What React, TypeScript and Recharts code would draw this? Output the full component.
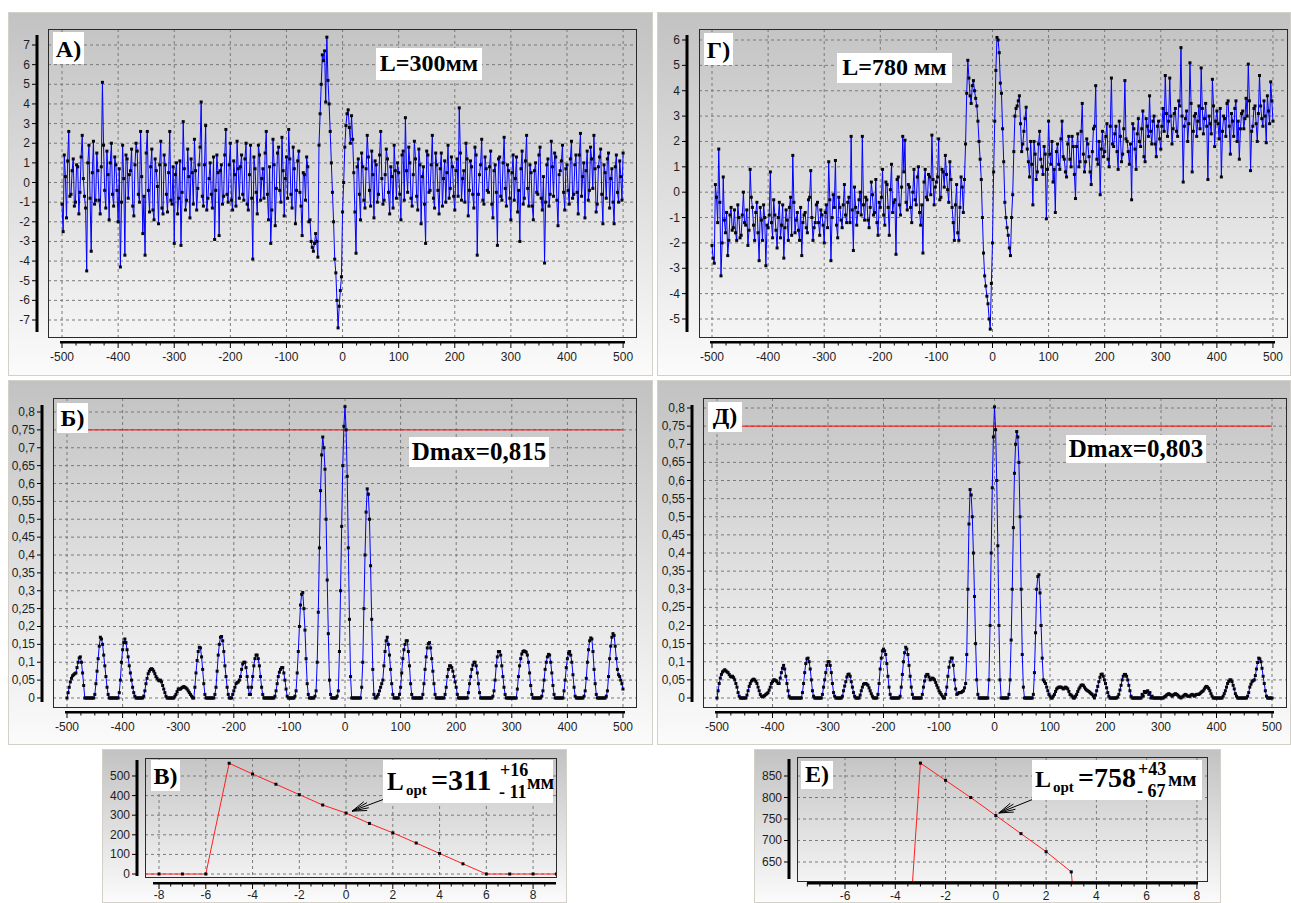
import React from 'react';
import { LineChart, Line, XAxis, YAxis, CartesianGrid, ReferenceLine } from 'recharts';

// sample positions along the scan, mm: main readings every 4 mm, plus the readings half way between them
const scanMm = Array.from({ length: 251 }, (_, i) => -500 + 4 * i);
const scanMidMm = Array.from({ length: 250 }, (_, i) => -498 + 4 * i);

// А) signal, L = 300 mm
const signalA = [
  -1.1, 1.4, -1.8, 2.6, -0.6, 1.2, -1.0, 0.8, -0.5, 2.4, -0.7, -4.5, 1.9, -3.5, 2.1, -0.9, 0.6, -1.6, 5.1, -0.4, 1.6, -1.9, 2.0, -1.2, 0.9,
  -2.0, -4.3, 1.9, -3.7, 1.2, 0.4, 1.7, -1.7, 2.0, -0.6, 2.6, -2.6, -3.7, 2.6, -1.5, 1.7, -1.9, 0.6, -2.1, 2.1, -1.6, 0.9, -1.5, 2.6, -1.1,
  -3.1, 1.0, -0.8, -3.2, 3.1, -1.4, 1.7, -1.8, 0.5, 2.2, -1.4, 0.9, 4.1, -1.2, 2.9, -0.8, 1.0, -1.3, -2.9, 1.4, -2.7, 0.9, -0.7, 2.7, -1.0,
  2.0, -1.4, 0.4, 2.1, -0.8, 1.4, -0.9, 2.0, -1.4, 1.9, -3.9, 0.7, -1.6, 1.4, 0.2, -0.8, 2.6, -1.9, -3.1, 2.2, -2.2, 1.5, -0.4, 2.3, -1.7,
  1.3, 2.7, -0.6, 1.8, -2.1, 1.1, -0.5, -2.7, 0.4, 1.3, -2.0, -3.0, -3.5, -2.6, -3.8, 3.5, 6.5, 6.7, 7.4, 4.0, 1.0, -2.0, -4.6, -7.4, -5.5,
  -1.5, 1.8, 3.5, 2.8, 3.4, 0.5, -3.6, 1.2, -1.9, 0.8, -1.3, 2.4, -0.4, 1.6, -1.8, 0.9, -0.6, 2.6, -1.1, 0.4, 1.2, -1.6, 0.3, 1.9, -0.8,
  0.5, -1.9, 1.6, 3.3, -0.5, 1.0, -1.2, 2.1, -0.7, 1.7, -2.1, 0.8, -3.1, 1.4, -0.4, 2.4, -1.3, 0.9, -1.6, 1.5, 0.2, -1.0, 1.9, -0.3, 0.8,
  -1.4, 1.2, 3.8, -0.9, 0.6, 2.0, -1.7, 1.1, -0.6, 1.8, -3.7, 0.4, 2.2, -1.1, 0.7, -0.5, 1.6, -1.8, 0.9, -3.2, 1.3, -0.9, 2.3, -1.2, 0.6,
  -1.9, 1.4, 0.2, -1.5, -3.0, 1.6, -0.8, 2.4, -1.2, 0.5, -1.9, 1.0, -0.6, 1.8, -1.4, -4.1, 0.9, -1.2, 2.1, -0.7, 1.3, -2.2, 0.6, 1.9, -1.4,
  0.9, -1.1, 2.1, -0.6, 1.4, -1.6, 2.5, 0.3, -1.8, 1.6, -0.4, 1.2, 2.4, -1.5, 0.8, 1.7, -2.1, 0.5, 1.2, -1.3, 0.7, -2.1, 1.4, -1.0, 0.3,
  1.5,
];
const signalAMid = [
  -2.5, 0.3, 1.1, -0.7, 0.6, -1.2, 0.9, -1.6, 1.3, 0.2, -1.3, 1.0, -0.8, 0.5, -1.1, 1.5, -0.9, 0.8, 1.9, -1.3, 0.4, 1.0, -0.6, 1.3, -0.4,
  0.7, -1.0, 0.2, 1.4, -0.8, 0.6, -1.2, 0.9, 1.6, -1.0, 0.3, -0.7, 1.5, -0.4, 0.8, -1.4, 1.2, -0.2, 0.9, -1.3, 1.4, -0.6, 0.5, -0.9, 0.8,
  0.4, -1.6, 1.1, -0.5, 0.7, -0.9, 0.3, 1.2, -1.1, 0.6, -0.3, 1.8, -0.7, 0.9, -1.4, 0.2, -0.6, 1.3, -0.4, 0.5, 0.6, -1.1, 1.4, -0.6, 0.9,
  -0.9, 1.1, -1.2, 0.7, 0.8, -0.6, 1.2, -1.1, 0.4, -0.8, 1.3, -0.5, 1.9, -0.9, 0.7, 1.5, -0.6, 0.8, -1.4, 0.9, -0.3, 1.8, -1.0, 0.6, 0.2,
  -0.8, 1.2, -1.3, 0.7, -0.4, 1.6, -1.2, 0.5, -0.9, 0.8, -1.9, -3.3, -3.1, -3.0, 1.9, 5.0, 6.2, 4.1, 5.2, 2.6, -0.5, -3.9, -6.0, -6.3, -4.8,
  0.0, 2.9, 3.7, 2.0, 2.2, -1.5, 0.8, -0.6, 1.5, -0.9, 0.7, 1.3, -1.2, 0.4, 1.1, -1.0, 1.4, 0.2, -0.9, 1.7, -0.5, 0.8, -1.3, 0.6, 1.0,
  -0.6, 1.4, -0.9, 0.6, 1.8, -0.8, 0.4, 1.2, -1.4, 0.9, 0.3, -1.1, 1.6, -0.5, 0.9, -0.8, 1.5, -0.4, 0.7, -1.2, 1.1, 0.5, -0.8, 1.3, -0.7,
  0.6, -0.7, 1.5, 0.2, -1.0, 1.2, -0.4, 0.8, -1.3, 1.4, -0.6, 0.9, -0.9, 1.3, -0.4, 0.8, -1.1, 0.6, -0.5, 1.2, -0.7, 1.0, -0.3, 0.9, -0.8,
  0.5, -0.9, 1.3, -0.4, 0.7, -1.1, 1.1, -0.3, 0.9, -1.2, 0.6, -0.5, 1.4, -0.8, 0.3, -1.0, 1.2, -0.6, 0.8, 1.5, -0.9, 0.4, 1.1, -0.5, 0.7,
  -0.4, 1.2, -0.8, 0.9, -0.5, 1.4, -0.7, 1.0, 0.6, -0.9, 1.8, -0.3, 0.7, -1.1, 1.3, -0.6, 0.9, -0.8, 1.5, 0.2, -1.0, 0.8, -0.5, 1.1, -0.9,
];

// Г) signal, L = 780 mm
const signalG = [
  -2.1, -2.8, -0.2, 1.7, -3.3, 0.6, -1.6, -2.5, -0.9, -1.5, -0.7, -1.9, -1.0, -1.7, 0.0, -1.3, -2.1, 0.9, -0.6, -1.9, -0.4, -2.7, -1.1, -0.5, -2.9,
  -1.4, 0.8, -1.8, -0.9, -2.2, -0.4, -1.3, -2.6, -0.7, -1.9, -0.2, 1.45, -1.6, -0.8, -1.9, -2.5, -0.9, -1.4, -0.3, 0.85, -1.9, -1.2, -0.4, -1.7, -0.9,
  -2.0, -0.5, 1.2, -2.7, -0.1, 1.25, -1.8, -0.6, -1.4, 0.3, -1.2, -0.2, 2.2, -2.3, -0.6, -0.8, 0.0, 2.2, -1.1, -0.3, -1.4, 0.4, -0.9, 0.5, -1.7,
  -0.6, 0.9, -1.3, 0.3, -1.7, 1.1, -0.4, -2.45, 0.6, -0.9, 2.2, 2.05, -0.7, 0.2, -1.2, 0.9, -0.5, 1.0, -1.3, -2.4, 0.9, -0.3, 0.6, 2.25, -0.5,
  0.4, 2.1, -0.2, 0.8, 1.45, 0.1, 1.2, -0.6, -1.9, 0.3, -1.9, 0.6, -0.8, 1.9, 5.2, 3.8, 4.2, 4.0, 3.4, 2.0, 0.5, -2.4, -3.7, -4.4, -5.4,
  -2.0, 2.8, 6.1, 5.5, 3.9, 1.2, -1.0, -1.7, -2.5, -0.1, 3.0, 3.4, 3.8, 1.6, 2.4, 3.35, 1.2, 2.0, -0.5, 1.5, 0.8, 2.4, 1.0, 1.8, -1.05,
  2.8, 1.1, 0.4, -0.8, 1.9, 0.9, 2.8, 1.3, 0.6, 2.2, 1.0, 1.8, -0.25, 2.3, 1.2, 3.5, 0.8, 2.1, 1.4, 0.3, 2.5, 4.2, 1.1, -0.1, 2.4,
  1.6, 2.7, 1.0, 4.5, 1.8, 2.6, 0.9, 2.2, 1.5, 4.4, 2.0, 1.1, -0.3, 2.5, 0.9, 2.9, 1.8, 3.2, 1.2, 2.6, 3.8, 1.9, 3.0, 1.4, 2.8,
  1.7, 3.3, 4.6, 2.2, 4.5, 1.9, 3.1, 2.4, 3.6, 5.7, 0.4, 2.9, 2.0, 5.1, 0.8, 3.0, 2.2, 3.4, 4.9, 2.3, 3.5, 0.5, 2.7, 4.45, 1.8,
  3.2, 2.1, 0.6, 3.0, 2.2, 3.6, 1.5, 2.8, 3.3, 2.0, 1.3, 3.1, 2.5, 3.7, 5.05, 0.85, 2.6, 3.4, 2.0, 4.6, 2.9, 3.6, 1.95, 3.2, 4.35,
  2.8,
];
const signalGMid = [
  -2.6, 0.3, -1.2, -0.4, -2.0, -1.1, -0.8, -1.9, -0.6, -1.4, -1.6, -0.5, -1.8, -0.9, -1.2, -0.7, -1.5, -0.2, -1.3, -0.8, -1.6, -0.6, -1.9, -1.0, -1.3,
  -0.9, -1.2, -0.3, -1.5, -1.0, -1.8, -0.5, -1.4, -1.1, -0.6, -1.7, -0.4, -1.1, -1.5, -0.6, -1.2, -0.8, -1.6, -0.2, -1.0, -1.4, -0.5, -1.2, -0.7, -1.3,
  -0.8, -1.4, -0.3, -1.0, -0.6, -1.3, -0.2, -1.1, -0.5, -0.9, -0.4, -1.2, -0.7, 0.2, -1.3, -0.3, -0.9, -0.5, -0.2, -1.1, -0.6, -0.1, -0.8, -1.2, -0.4,
  -0.2, -0.9, 0.4, -0.6, 0.1, -0.8, -0.3, 0.5, -0.5, 0.2, 0.8, -0.4, 0.3, -0.6, 0.0, -0.3, 0.6, -0.8, -0.5, 0.4, -0.2, 0.7, -0.1, 0.5, 0.2,
  0.6, -0.3, 0.9, 0.2, 0.7, -0.4, 0.5, -1.2, -0.5, -1.6, -0.6, 0.2, 0.5, 3.9, 4.5, 3.5, 4.4, 3.7, 2.8, 1.3, -1.0, -3.3, -4.1, -5.0, -3.6,
  0.8, 4.8, 6.0, 4.3, 2.5, -0.4, -1.4, -2.2, -1.0, 1.6, 3.3, 3.6, 2.7, 1.9, 2.9, 1.7, 0.6, 1.1, 2.0, 0.5, 1.9, 1.3, 0.7, 1.5, 0.9,
  1.5, 2.0, 0.9, 1.6, 1.1, 2.1, 1.4, 0.8, 1.9, 1.3, 2.2, 0.7, 1.8, 1.0, 2.4, 1.5, 1.2, 1.9, 0.8, 1.6, 2.6, 1.3, 2.0, 1.7, 1.4,
  2.2, 1.3, 2.6, 1.9, 2.3, 1.6, 2.8, 1.2, 2.5, 2.1, 1.6, 1.9, 2.7, 1.7, 2.3, 2.0, 2.5, 1.4, 2.9, 2.2, 2.4, 2.8, 1.9, 2.6, 2.1,
  2.6, 2.4, 3.1, 2.8, 3.0, 2.5, 3.3, 2.2, 3.4, 3.0, 2.6, 3.2, 2.7, 3.5, 2.4, 3.1, 2.8, 2.5, 3.3, 2.9, 2.6, 3.0, 2.3, 3.4, 2.8,
  2.7, 3.3, 2.4, 2.9, 3.5, 2.6, 3.1, 2.2, 3.6, 2.8, 2.5, 3.2, 2.9, 3.0, 3.6, 2.4, 3.3, 2.7, 3.1, 3.4, 2.6, 3.0, 3.8, 2.7, 3.6,
];

// Б) correlation, L = 300 mm
const corrB = [
  0, .03, .055, .065, .07, .1, .115, .07, 0, 0, 0, 0, 0, .04, .11, .17, .15, .09, .03, 0, 0, 0, 0, 0, .05,
  .135, .165, .135, .09, .05, .015, 0, 0, 0, 0, .02, .055, .075, .082, .075, .06, .05, .05, .035, .015, 0, 0, 0, 0, .01,
  .025, .025, .03, .03, .025, .015, .005, 0, .07, .13, .14, .08, .01, 0, 0, 0, 0, .03, .12, .17, .16, .09, .03, 0, 0,
  .02, .04, .045, .06, .095, .1, .06, .01, .03, .09, .12, .11, .06, .01, 0, 0, 0, 0, 0, .02, .06, .08, .085, .05, .005,
  0, 0, 0, .02, .13, .26, .295, .19, .04, 0, 0, 0, .02, .24, .58, .73, .64, .33, .05, 0, 0, 0, .02, .3, .65,
  .815, .62, .22, 0, 0, 0, 0, 0, .1, .4, .585, .5, .22, .01, 0, .01, .03, .05, .13, .17, .12, .04, 0, 0, 0,
  .03, .11, .15, .16, .09, .01, 0, 0, 0, 0, .01, .08, .14, .155, .11, .04, 0, 0, 0, 0, .01, .06, .09, .085, .06,
  .03, 0, 0, 0, 0, 0, .04, .08, .1, .09, .04, 0, 0, 0, 0, 0, 0, .02, .09, .13, .12, .06, .01, 0, 0,
  0, 0, 0, .06, .11, .13, .13, .12, .07, .01, 0, 0, 0, 0, .02, .08, .115, .12, .07, .01, 0, 0, 0, 0, .05,
  .11, .13, .1, .03, 0, 0, 0, 0, .02, .1, .16, .165, .08, .01, 0, 0, 0, 0, .02, .11, .17, .175, .11, .065, .05,
  .025,
];
const corrBMid = [
  .015, .045, .062, .068, .085, .112, .1, .035, 0, 0, 0, 0, .01, .075, .145, .165, .12, .06, .01, 0, 0, 0, 0, .015, .1,
  .155, .155, .115, .07, .03, .005, 0, 0, 0, .005, .04, .068, .08, .08, .068, .055, .048, .045, .025, .005, 0, 0, 0, .005, .018,
  .025, .028, .032, .028, .02, .01, 0, .03, .105, .142, .115, .04, 0, 0, 0, 0, .01, .075, .15, .172, .13, .06, .01, 0, .01,
  .03, .043, .05, .08, .1, .085, .03, .01, .06, .11, .12, .09, .03, 0, 0, 0, 0, 0, .005, .04, .072, .085, .07, .025, 0,
  0, 0, .005, .07, .2, .29, .25, .11, .01, 0, 0, .005, .1, .42, .68, .7, .5, .18, .01, 0, 0, .005, .13, .48, .76,
  .75, .42, .06, 0, 0, 0, 0, .03, .25, .52, .57, .37, .08, 0, .005, .02, .04, .09, .16, .15, .08, .01, 0, 0, .01,
  .07, .135, .16, .13, .04, 0, 0, 0, 0, 0, .04, .115, .152, .14, .075, .01, 0, 0, 0, 0, .03, .08, .09, .075, .045,
  .01, 0, 0, 0, 0, .015, .06, .092, .1, .07, .015, 0, 0, 0, 0, 0, .005, .05, .115, .13, .09, .03, 0, 0, 0,
  0, 0, .025, .09, .123, .132, .128, .1, .035, 0, 0, 0, 0, .005, .05, .1, .122, .1, .035, 0, 0, 0, 0, .02, .085,
  .125, .12, .065, .005, 0, 0, 0, .005, .055, .135, .168, .13, .04, 0, 0, 0, 0, .005, .06, .145, .18, .145, .08, .06, .04,
];

// Д) correlation, L = 780 mm
const corrD = [
  0, .04, .065, .075, .075, .07, .06, .06, .05, .03, .005, 0, 0, 0, .02, .04, .05, .05, .04, .02, .005, .005, .01, .015, .03,
  .045, .05, .045, .04, .07, .09, .06, .02, 0, 0, 0, 0, 0, 0, .04, .095, .11, .08, .02, 0, 0, 0, 0, .03, .07,
  .1, .09, .04, .005, 0, 0, 0, .02, .045, .065, .06, .03, .005, 0, 0, .02, .038, .04, .035, .02, .005, 0, 0, .04, .11,
  .135, .12, .06, .01, 0, 0, 0, 0, .03, .1, .14, .12, .06, .01, 0, 0, 0, 0, .03, .06, .065, .05, .055, .05, .035,
  .02, .01, 0, .01, .06, .1, .11, .05, .01, .015, .015, .02, .04, .3, .575, .5, .28, .05, 0, 0, 0, 0, 0, .2, .58,
  .803, .6, .2, 0, 0, 0, 0, .05, .3, .62, .735, .65, .3, .03, 0, 0, 0, 0, .07, .3, .34, .2, .05, .04, .02,
  .005, 0, .01, .025, .03, .03, .025, .03, .025, .01, .005, 0, .01, .025, .035, .035, .025, .02, .015, .01, 0, .02, .045, .065, .06,
  .04, .015, 0, 0, 0, 0, .01, .035, .06, .065, .05, .02, 0, 0, 0, 0, 0, .005, .015, .02, .015, .005, 0, 0, 0,
  0, 0, .005, .01, .01, .005, .01, .01, .005, 0, .005, .01, .005, .005, .01, .005, .01, .01, .015, .02, .03, .03, .02, .005, 0,
  0, 0, 0, .005, .02, .04, .05, .045, .025, .005, 0, 0, 0, 0, .005, .03, .045, .05, .08, .11, .1, .06, .02, 0, 0,
  0,
];
const corrDMid = [
  .02, .055, .072, .078, .072, .065, .058, .056, .04, .015, 0, 0, 0, .008, .032, .047, .052, .046, .03, .01, .003, .007, .012, .022, .04,
  .05, .048, .04, .055, .082, .08, .04, .005, 0, 0, 0, 0, 0, .015, .07, .108, .1, .05, .005, 0, 0, 0, .01, .05, .09,
  .1, .07, .015, 0, 0, 0, .005, .033, .058, .066, .045, .015, 0, 0, .008, .03, .04, .038, .028, .012, 0, 0, .01, .08, .13,
  .13, .095, .03, 0, 0, 0, 0, .005, .065, .125, .135, .09, .03, 0, 0, 0, 0, .01, .047, .065, .058, .052, .053, .043, .028,
  .015, .005, 0, .03, .085, .11, .09, .025, .012, .015, .018, .028, .12, .48, .56, .4, .15, .01, 0, 0, 0, 0, .05, .4, .72,
  .74, .42, .05, 0, 0, 0, .01, .16, .47, .7, .72, .5, .12, 0, 0, 0, 0, .01, .18, .335, .29, .11, .045, .03, .01,
  0, .005, .018, .028, .03, .028, .027, .028, .018, .008, 0, .005, .018, .03, .036, .03, .022, .018, .012, .005, .008, .032, .057, .066, .05,
  .028, .005, 0, 0, 0, .003, .022, .05, .065, .06, .035, .005, 0, 0, 0, 0, .01, .018, .018, .01, 0, 0, 0, 0, 0,
  0, .003, .008, .012, .008, .008, .012, .008, .002, .003, .008, .008, .005, .008, .008, .008, .01, .012, .018, .025, .032, .026, .012, 0, 0,
  0, 0, 0, .012, .03, .046, .05, .035, .012, 0, 0, 0, 0, 0, .015, .038, .048, .062, .098, .108, .082, .04, .005, 0, 0,
];

// В) length estimate vs shift, L = 300 mm
const shiftV = [-9, -8, -7, -6, -5, -4, -3, -2, -1, 0, 1, 2, 3, 4, 5, 6, 7, 8, 9];
const lengthV = [0, 0, 0, 0, 565, 510, 458, 405, 352, 311, 258, 210, 158, 105, 52, 0, 0, 0, 0];

// Е) length estimate vs shift, L = 780 mm
const shiftE = [-8, -7, -6, -5, -4, -3, -2, -1, 0, 1, 2, 3, 4, 5, 6, 7, 8];
const lengthE = [0, 0, 0, 0, 0, 880, 840, 800, 758, 716, 674, 627, 0, 0, 0, 0, 0];

const scanTicks = [-500, -400, -300, -200, -100, 0, 100, 200, 300, 400, 500];
const ticksA = [-7, -6, -5, -4, -3, -2, -1, 0, 1, 2, 3, 4, 5, 6, 7];
const ticksG = [-5, -4, -3, -2, -1, 0, 1, 2, 3, 4, 5, 6];
const ticksCorr = [0, 0.05, 0.1, 0.15, 0.2, 0.25, 0.3, 0.35, 0.4, 0.45, 0.5, 0.55, 0.6, 0.65, 0.7, 0.75, 0.8];
const threshold = 0.75;
const shiftTicksV = [-8, -6, -4, -2, 0, 2, 4, 6, 8];
const ticksV = [0, 100, 200, 300, 400, 500];
const shiftTicksE = [-6, -4, -2, 0, 2, 4, 6, 8];
const ticksE = [650, 700, 750, 800, 850];

const FONT_AXIS = '"Liberation Sans", Arial, sans-serif';
const FONT_TAG = '"Liberation Serif", "Times New Roman", serif';

// unlabelled small ticks between the labelled ones
const minorTicks = (from: number, to: number, step: number, major: number[]) => {
  const out: number[] = [];
  for (let v = from; v <= to + 1e-9; v += step) {
    const r = Math.round(v * 100) / 100;
    if (!major.includes(r)) out.push(r);
  }
  return out;
};

const comma = (v: number) => String(v).replace('.', ',');

const scanSeries = (main: number[], mid: number[]) =>
  [...scanMm.map((x, i) => ({ x, y: main[i] })), ...scanMidMm.map((x, i) => ({ x, y: mid[i] }))].sort((a, b) => a.x - b.x);

type Cfg = {
  box: number[]; // l, t, r, b (page px)
  frame: number[];
  xDomain: number[];
  yDomain: number[];
  xMajor: number[];
  xMinor: number[];
  yMajor: number[];
  yFmt: (v: number) => string;
  yAxisX: number;
  yAxisSpan: number[];
  xAxisY: number;
  xAxisSpan: number[];
  xLabelY: number;
  data: { x: number; y: number }[];
  stroke: string;
  refY?: number;
  arrow?: { x: number; y: number }[];
};

const panels: Cfg[] = [
  {
    box: [8, 12, 653, 376], frame: [48, 29, 636, 337],
    xDomain: [-525, 523], yDomain: [-7.865, 7.815],
    xMajor: scanTicks, xMinor: minorTicks(-500, 500, 25, scanTicks), yMajor: ticksA, yFmt: String,
    yAxisX: 37, yAxisSpan: [35, 332], xAxisY: 342, xAxisSpan: [60, 625], xLabelY: 357,
    data: scanSeries(signalA, signalAMid), stroke: '#0000ff',
  },
  {
    box: [657, 12, 1291, 376], frame: [699, 29, 1287, 337],
    xDomain: [-523.2, 525], yDomain: [-5.71, 6.434],
    xMajor: scanTicks, xMinor: minorTicks(-500, 500, 25, scanTicks), yMajor: ticksG, yFmt: String,
    yAxisX: 687, yAxisSpan: [35, 332], xAxisY: 342, xAxisSpan: [710, 1275], xLabelY: 357,
    data: scanSeries(signalG, signalGMid), stroke: '#0000ff',
  },
  {
    box: [8, 380, 653, 745], frame: [53, 398, 636, 707],
    xDomain: [-525.2, 523.4], yDomain: [-0.0252, 0.8392],
    xMajor: scanTicks, xMinor: minorTicks(-500, 500, 25, scanTicks), yMajor: ticksCorr, yFmt: comma,
    yAxisX: 42, yAxisSpan: [405, 702], xAxisY: 712, xAxisSpan: [65, 625], xLabelY: 727,
    data: scanSeries(corrB, corrBMid), stroke: '#0000ff', refY: threshold,
  },
  {
    box: [657, 380, 1291, 745], frame: [703, 398, 1286, 707],
    xDomain: [-525.2, 525.2], yDomain: [-0.0248, 0.8276],
    xMajor: scanTicks, xMinor: minorTicks(-500, 500, 25, scanTicks), yMajor: ticksCorr, yFmt: comma,
    yAxisX: 692, yAxisSpan: [405, 702], xAxisY: 712, xAxisSpan: [715, 1274], xLabelY: 727,
    data: scanSeries(corrD, corrDMid), stroke: '#0000ff', refY: threshold,
  },
  {
    box: [102, 749, 567, 903], frame: [145, 758, 556, 877],
    xDomain: [-8.6, 8.98], yDomain: [-15.3, 591.8],
    xMajor: shiftTicksV, xMinor: minorTicks(-8, 8.5, 0.5, shiftTicksV), yMajor: ticksV, yFmt: String,
    yAxisX: 137, yAxisSpan: [760, 876], xAxisY: 883, xAxisSpan: [153, 556], xLabelY: 895,
    data: shiftV.map((x, i) => ({ x, y: lengthV[i] })), stroke: '#ff2020',
    arrow: [{ x: 2.1, y: 403 }, { x: 0.26, y: 321 }],
  },
  {
    box: [754, 749, 1221, 903], frame: [797, 757, 1207, 881],
    xDomain: [-7.91, 8.4], yDomain: [605.8, 894.2],
    xMajor: shiftTicksE, xMinor: minorTicks(-7.5, 8, 0.5, shiftTicksE), yMajor: ticksE, yFmt: String,
    yAxisX: 789, yAxisSpan: [759, 879], xAxisY: 883, xAxisSpan: [807, 1198], xLabelY: 896,
    data: shiftE.map((x, i) => ({ x, y: lengthE[i] })), stroke: '#ff2020',
    arrow: [{ x: 1.91, y: 806 }, { x: 0.12, y: 764 }],
  },
];

const squareDot = (p: any) =>
  p.cx == null || p.cy == null ? (
    <g key={`d${p.index}`} />
  ) : (
    <rect key={`d${p.index}`} x={p.cx - 1.5} y={p.cy - 1.5} width={3} height={3} fill="#050510" />
  );

const ArrowShape = (p: any) => {
  const { x1, y1, x2, y2 } = p;
  const ang = Math.atan2(y1 - y2, x1 - x2);
  const wing = (da: number, len: number) =>
    `M${x2},${y2} L${x2 + len * Math.cos(ang + da)},${y2 + len * Math.sin(ang + da)}`;
  return (
    <g>
      <line x1={x1} y1={y1} x2={x2} y2={y2} stroke="#000" strokeWidth={1} />
      <path d={[wing(0.32, 15), wing(-0.32, 15), wing(0.16, 17), wing(-0.16, 17)].join(' ')} stroke="#000" strokeWidth={1} fill="none" />
    </g>
  );
};

const AXIS_W = 10;
const AXIS_H = 10;

function ChartPanel({ cfg }: { cfg: Cfg }) {
  const [bl, bt, br, bb] = cfg.box;
  const [fl, ft, fr, fb] = cfg.frame;
  const W = br - bl;
  const H = bb - bt;
  const margin = { top: ft - bt, right: br - fr, bottom: bb - fb - AXIS_H, left: fl - bl - AXIS_W };
  const xTicks = [...cfg.xMajor, ...cfg.xMinor].sort((a, b) => a - b);
  const axisOffY = cfg.xAxisY - fb;
  const labelOffY = cfg.xLabelY - fb;
  const axisOffX = cfg.yAxisX - fl;

  const xTick = (p: any) => {
    const v = p.payload.value;
    const major = cfg.xMajor.some((m) => Math.abs(m - v) < 1e-6);
    return (
      <g>
        <line x1={p.x} x2={p.x} y1={p.y + axisOffY} y2={p.y + axisOffY + (major ? 6 : 3.5)} stroke="#000" strokeWidth={1} />
        {major && (
          <text x={p.x} y={p.y + labelOffY} textAnchor="middle" dominantBaseline="central" fontSize={12} fontFamily={FONT_AXIS} fill="#1e1e1e">
            {String(v)}
          </text>
        )}
      </g>
    );
  };

  const yTick = (p: any) => (
    <g>
      <line x1={p.x + axisOffX - 5} x2={p.x + axisOffX - 1} y1={p.y} y2={p.y} stroke="#000" strokeWidth={1} />
      <text x={p.x + axisOffX - 7} y={p.y} textAnchor="end" dominantBaseline="central" fontSize={12} fontFamily={FONT_AXIS} fill="#1e1e1e">
        {cfg.yFmt(p.payload.value)}
      </text>
    </g>
  );

  return (
    <div style={{ position: 'absolute', left: bl, top: bt, width: W, height: H }}>
      <LineChart width={W} height={H} data={cfg.data} margin={margin}>
        <CartesianGrid stroke="#7a7a7a" strokeDasharray="3 3" verticalValues={cfg.xMajor} horizontalValues={cfg.yMajor} />
        <XAxis
          dataKey="x" type="number" domain={cfg.xDomain} allowDataOverflow ticks={xTicks} interval={0}
          height={AXIS_H} tickSize={0} tickMargin={0} axisLine={false} tickLine={false} tick={xTick}
        />
        <YAxis
          type="number" domain={cfg.yDomain} allowDataOverflow ticks={cfg.yMajor} interval={0}
          width={AXIS_W} tickSize={0} tickMargin={0} axisLine={false} tickLine={false} tick={yTick}
        />
        {cfg.refY !== undefined && (
          <ReferenceLine segment={[{ x: -500, y: cfg.refY }, { x: 500, y: cfg.refY }]} stroke="#ff0000" strokeWidth={1} />
        )}
        <Line type="linear" dataKey="y" stroke={cfg.stroke} strokeWidth={1} dot={squareDot} activeDot={false} isAnimationActive={false} />
        {cfg.arrow && <ReferenceLine segment={cfg.arrow} shape={ArrowShape} />}
      </LineChart>
    </div>
  );
}

const Tag = ({ x, y, w, h, text, size, base }: any) => (
  <g>
    <rect x={x} y={y} width={w} height={h} fill="#fff" />
    <text x={x + w / 2} y={base} textAnchor="middle" fontFamily={FONT_TAG} fontWeight="bold" fontSize={size} fill="#000">
      {text}
    </text>
  </g>
);

const T = ({ x, y, size, children }: any) => (
  <text x={x} y={y} fontFamily={FONT_TAG} fontWeight="bold" fontSize={size} fill="#000">
    {children}
  </text>
);

export default function App() {
  return (
    <div style={{ position: 'absolute', left: 0, top: 0, width: 1291, height: 903, background: '#fff', overflow: 'hidden' }}>
      {panels.map((p, i) => (
        <div
          key={`bg${i}`}
          style={{
            position: 'absolute', left: p.box[0], top: p.box[1], width: p.box[2] - p.box[0], height: p.box[3] - p.box[1],
            boxSizing: 'border-box', border: '1px solid #d3d0ca', background: 'linear-gradient(#c2c2c2, #fbfbfb)',
          }}
        />
      ))}
      {panels.map((p, i) => (
        <ChartPanel key={`ch${i}`} cfg={p} />
      ))}
      <svg width={1291} height={903} style={{ position: 'absolute', left: 0, top: 0, pointerEvents: 'none' }}>
        {panels.map((p, i) => (
          <g key={`fr${i}`}>
            <rect x={p.frame[0] + 0.5} y={p.frame[1] + 0.5} width={p.frame[2] - p.frame[0]} height={p.frame[3] - p.frame[1]} fill="none" stroke="#2a2a2a" strokeWidth={1} />
            <rect x={p.yAxisX - 1.5} y={p.yAxisSpan[0]} width={3} height={p.yAxisSpan[1] - p.yAxisSpan[0]} fill="#000" />
            <rect x={p.xAxisSpan[0]} y={p.xAxisY - 1} width={p.xAxisSpan[1] - p.xAxisSpan[0]} height={2.5} fill="#000" />
          </g>
        ))}
        <Tag x={53} y={32} w={31} h={32} text="А)" size={24} base={57} />
        <Tag x={376} y={48} w={106} h={32} text="L=300мм" size={24} base={71} />
        <Tag x={704} y={33} w={29} h={32} text="Г)" size={24} base={58} />
        <Tag x={837} y={53} w={115} h={30} text="L=780 мм" size={24} base={75} />
        <Tag x={57} y={403} w={31} h={30} text="Б)" size={24} base={426} />
        <Tag x={409} y={437} w={140} h={30} text="Dmax=0,815" size={25} base={460} />
        <Tag x={708} y={402} w={34} h={30} text="Д)" size={24} base={424} />
        <Tag x={1066} y={435} w={140} h={28} text="Dmax=0,803" size={25} base={457} />
        <Tag x={151} y={760} w={29} h={31} text="В)" size={24} base={784} />
        <Tag x={801} y={761} w={32} h={28} text="Е)" size={24} base={782} />

        <rect x={383} y={760} width={170} height={43} fill="#fff" />
        <T x={387} y={790} size={25}>L</T>
        <T x={406} y={795} size={15}>opt</T>
        <T x={431} y={790} size={30}>=311</T>
        <T x={500} y={776} size={18}>+16</T>
        <T x={499} y={798} size={18}>- 11</T>
        <T x={527} y={789} size={20}>мм</T>

        <rect x={1032} y={760} width={170} height={40} fill="#fff" />
        <T x={1035} y={787} size={24}>L</T>
        <T x={1053} y={792} size={15}>opt</T>
        <T x={1078} y={787} size={28}>=758</T>
        <T x={1138} y={775} size={18}>+43</T>
        <T x={1137} y={797} size={18}>- 67</T>
        <T x={1168} y={786} size={21}>мм</T>
      </svg>
    </div>
  );
}
